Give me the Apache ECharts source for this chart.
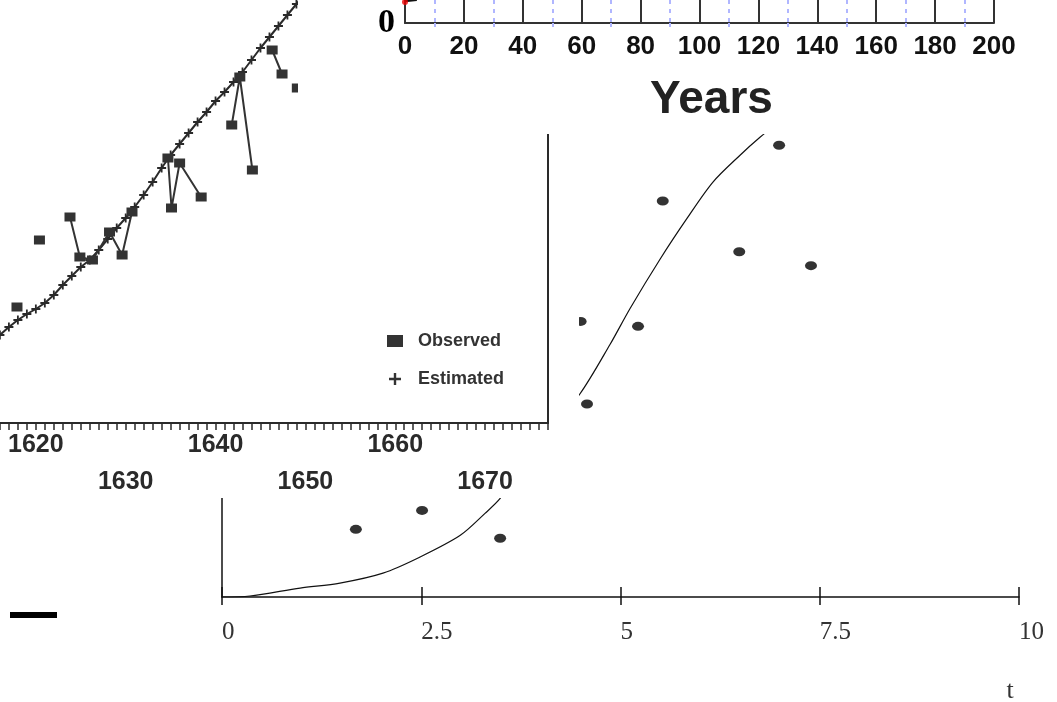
<!DOCTYPE html>
<html>
<head>
<meta charset="utf-8">
<script src="https://cdn.jsdelivr.net/npm/echarts@6/dist/echarts.min.js"></script>
<style>
  html, body { margin: 0; padding: 0; background: #fff; }
  #main { width: 1057px; height: 702px; }
</style>
</head>
<body>
<div id="main"></div>
<script>
// bottom panel: fitted curve and observations over t
const dotT = [1.68, 2.51, 3.49, 4.50, 4.58, 5.22, 5.53, 6.49, 6.99, 7.39];
const dotY = [68, 87, 59, 277, 194, 272, 398, 347, 454, 333];
const curveT = [0, 0.35, 0.98, 1.48, 2.02, 2.48, 2.99, 3.30, 3.49, 4.49, 4.87, 5.12, 5.50, 5.83, 6.16, 6.50, 6.75, 7.0];
const curveY = [0, 1, 9, 14, 24, 40, 62, 84, 99, 204, 254, 290, 340, 380, 417, 444, 462, 478];
const tTicks = [0, 2.5, 5, 7.5, 10];

// scanned panel: observed vs estimated by year
const estYears = [1615, 1616, 1617, 1618, 1619, 1620, 1621, 1622, 1623, 1624, 1625, 1626, 1627, 1628, 1629, 1630,
  1631, 1632, 1633, 1634, 1635, 1636, 1637, 1638, 1639, 1640, 1641, 1642, 1643, 1644, 1645, 1646, 1647, 1648, 1649, 1650];
const estVals = [80, 88, 96, 103, 109, 114, 120, 128, 138, 147, 156, 163, 173, 184, 195, 205,
  216, 228, 241, 255, 268, 279, 290, 301, 311, 322, 331, 341, 351, 363, 375, 386, 397, 408, 419, 430];
const obsYears = [1617.9, null, 1620.4, null, 1623.8, 1624.9, 1626.3, 1628.2, 1629.6, 1630.7, null,
  1634.7, 1635.1, 1636.0, 1638.4, null, 1641.8, 1642.7, 1644.1, null, 1646.3, 1647.4, null, 1649.1];
const obsVals = [116, null, 183, null, 206, 166, 163, 191, 168, 211, null,
  265, 215, 260, 226, null, 298, 346, 253, null, 373, 349, null, 335];

// top panel: years axis
const yearTicks = [0, 20, 40, 60, 80, 100, 120, 140, 160, 180, 200];
const topX = [0, 4];
const topY = [9.7, 10.2];
const redX = [0];
const redY = [9.1];

const chart = echarts.init(document.getElementById("main"));

const plus = "path://M4,0L6,0L6,4L10,4L10,6L6,6L6,10L4,10L4,6L0,6L0,4L4,4Z";
const zip = (a, b) => a.map((v, i) => (v == null || b[i] == null ? ["-", "-"] : [v, b[i]]));

chart.setOption({
  animation: false,
  backgroundColor: "#fff",
  grid: [
    { left: 222, right: 38, top: 0, bottom: 105, outerBoundsMode: "none" },
    { left: -54, right: 509, top: 0, bottom: 279, zlevel: 1, outerBoundsMode: "none" },
    { left: 405, right: 63, top: 0, bottom: 679, zlevel: 2, outerBoundsMode: "none" },
  ],
  xAxis: [
    {
      gridIndex: 0, type: "value", min: 0, max: 10, interval: 2.5,
      axisLine: { lineStyle: { color: "#111", width: 1.5 } },
      axisTick: { length: 8, lineStyle: { color: "#111", width: 1.5 } },
      splitLine: { show: false },
      axisLabel: {
        align: "left", margin: 23, color: "#333",
        fontFamily: "Liberation Serif", fontSize: 25,
        formatter: (v) => (tTicks.includes(v) ? String(v) : ""),
      },
    },
    {
      gridIndex: 0, type: "value", min: 0, max: 10, interval: 2.5, position: "bottom",
      axisLine: { show: false },
      axisTick: { inside: true, length: 10, lineStyle: { color: "#111", width: 1.5 } },
      axisLabel: { show: false },
      splitLine: { show: false },
      name: "t", nameLocation: "end", nameGap: -9,
      nameTextStyle: {
        fontFamily: "Liberation Serif", fontSize: 26, color: "#333",
        align: "center", verticalAlign: "top", padding: [81, 0, 0, 0],
      },
    },
    {
      gridIndex: 1, type: "value", min: 1610, max: 1677, interval: 1, zlevel: 1, z: 5,
      axisLine: { lineStyle: { color: "#2a2a2a", width: 2 } },
      axisTick: { length: 7, lineStyle: { color: "#2a2a2a", width: 1.5 } },
      splitLine: { show: false },
      axisLabel: {
        margin: 4, color: "#2a2a2a", fontFamily: "Liberation Sans", fontWeight: "bold",
        fontSize: 25, lineHeight: 37,
        formatter: (v) => (v % 20 === 0 ? String(v) : v % 10 === 0 ? "\n" + v : ""),
      },
    },
    {
      gridIndex: 2, type: "value", min: 0, max: 200, interval: 20, zlevel: 2, z: 5,
      axisLine: { lineStyle: { color: "#333", width: 2 } },
      axisTick: { show: false },
      splitLine: { show: true, lineStyle: { color: "#333", width: 2 } },
      minorTick: { show: true, splitNumber: 2, length: 4, lineStyle: { color: "#b0b6ff", width: 2, type: [4, 4] } },
      minorSplitLine: { show: true, lineStyle: { color: "#b0b6ff", width: 2, type: [4, 5] } },
      axisLabel: {
        margin: 11, color: "#111", fontFamily: "Liberation Sans", fontWeight: "bold", fontSize: 26,
        formatter: (v) => (yearTicks.includes(v) ? String(v) : ""),
      },
      name: "Years", nameLocation: "middle", nameGap: 54,
      nameTextStyle: {
        fontFamily: "Liberation Sans", fontWeight: "bold", fontSize: 46, color: "#222",
        padding: [0, 0, 0, 24],
      },
    },
  ],
  yAxis: [
    {
      gridIndex: 0, type: "value", min: 0, max: 600,
      axisLine: { show: true, lineStyle: { color: "#111", width: 1.5 } },
      axisTick: { show: false }, axisLabel: { show: false }, splitLine: { show: false },
    },
    {
      gridIndex: 1, type: "value", min: 0, max: 423, position: "right", zlevel: 1, z: 5,
      axisLine: { show: true, lineStyle: { color: "#2a2a2a", width: 2 } },
      axisTick: { show: false }, axisLabel: { show: false }, splitLine: { show: false },
    },
    {
      gridIndex: 2, type: "value", min: 0, max: 10, interval: 10, zlevel: 2, z: 5,
      axisLine: { show: true, lineStyle: { color: "#333", width: 2 } },
      axisTick: { show: false }, splitLine: { show: false },
      axisLabel: {
        margin: 10, color: "#000", fontFamily: "Liberation Serif", fontWeight: "bold", fontSize: 34,
        formatter: (v) => (v === 0 ? "0" : ""),
      },
    },
  ],
  legend: {
    zlevel: 1, z: 6,
    orient: "vertical", left: 382, top: 327, itemGap: 20,
    itemWidth: 16, itemHeight: 12,
    textStyle: {
      fontFamily: "Liberation Sans", fontWeight: "bold", fontSize: 18, color: "#333",
      padding: [0, 0, 0, 10],
    },
    data: [
      { name: "Observed", icon: "rect", itemStyle: { color: "#333" } },
      { name: "Estimated", icon: plus, itemStyle: { color: "#333" } },
    ],
  },
  graphic: [
    { type: "rect", zlevel: 0, z: 1, shape: { x: 10, y: 612, width: 47, height: 6 }, style: { fill: "#000" } },
    { type: "rect", zlevel: 1, z: 0, shape: { x: 0, y: 0, width: 579, height: 498 }, style: { fill: "#fff" } },
    { type: "rect", zlevel: 2, z: 0, shape: { x: 298, y: 0, width: 759, height: 134 }, style: { fill: "#fff" } },
  ],
  series: [
    {
      name: "fit", type: "line", xAxisIndex: 0, yAxisIndex: 0, smooth: 0.3,
      showSymbol: false, lineStyle: { color: "#111", width: 1.2 },
      data: zip(curveT, curveY),
    },
    {
      name: "data", type: "scatter", xAxisIndex: 0, yAxisIndex: 0,
      symbol: "circle", symbolSize: [12, 9], itemStyle: { color: "#000" },
      data: zip(dotT, dotY),
    },
    {
      name: "Estimated", type: "line", xAxisIndex: 2, yAxisIndex: 1, zlevel: 1, z: 5,
      symbol: plus, symbolSize: 9, showAllSymbol: true,
      lineStyle: { color: "#2a2a2a", width: 2 }, itemStyle: { color: "#2a2a2a" },
      data: zip(estYears, estVals),
    },
    {
      name: "Observed", type: "line", xAxisIndex: 2, yAxisIndex: 1, zlevel: 1, z: 6,
      symbol: "rect", symbolSize: [11, 9], connectNulls: false,
      lineStyle: { color: "#333", width: 2 }, itemStyle: { color: "#333" },
      data: zip(obsYears, obsVals),
    },
    {
      name: "top", type: "line", xAxisIndex: 3, yAxisIndex: 2, zlevel: 2, z: 6,
      showSymbol: false, lineStyle: { color: "#111", width: 3 },
      data: zip(topX, topY),
    },
    {
      name: "start", type: "scatter", xAxisIndex: 3, yAxisIndex: 2, zlevel: 2, z: 7,
      symbolSize: 6, itemStyle: { color: "#e00" },
      data: zip(redX, redY),
    },
  ],
});
</script>
</body>
</html>
